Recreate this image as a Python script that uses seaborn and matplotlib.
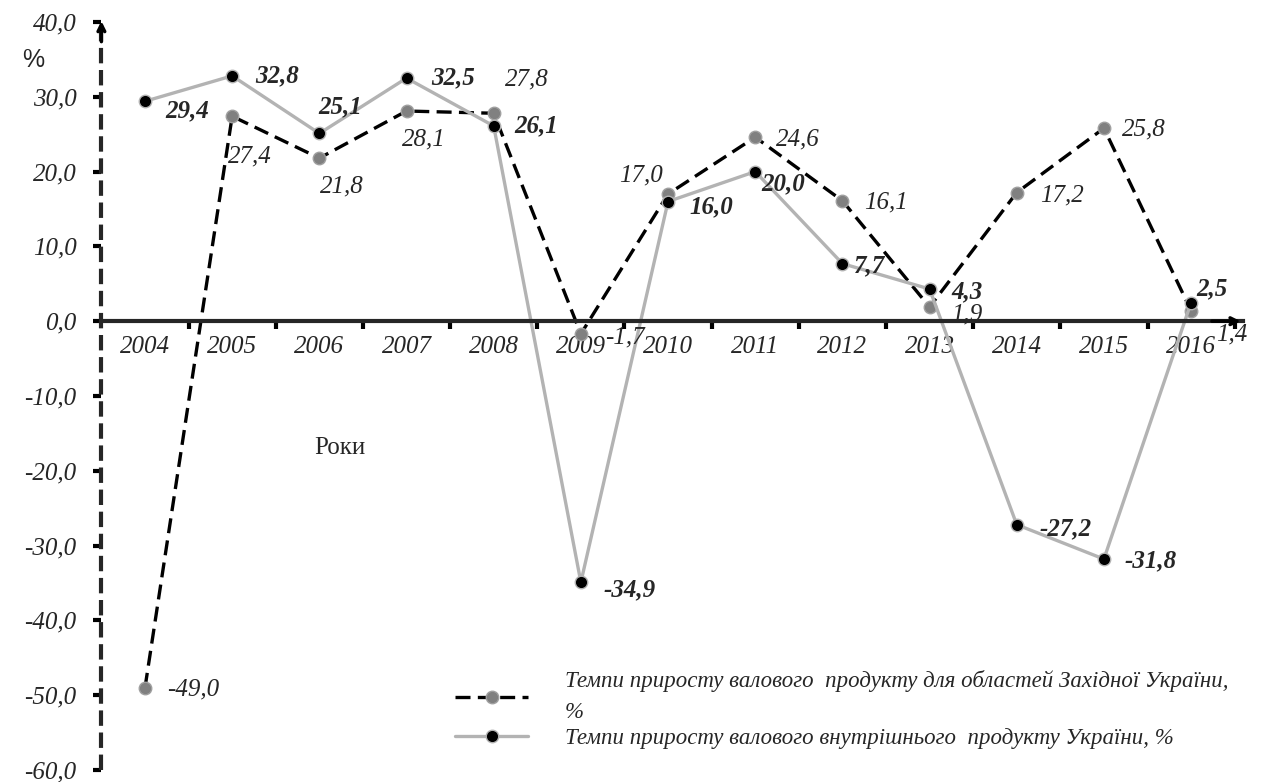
import numpy as np
import pandas as pd
import matplotlib
matplotlib.use("Agg")
import matplotlib.pyplot as plt
import seaborn as sns
from matplotlib.ticker import FuncFormatter

# data
years = ["2004", "2005", "2006", "2007", "2008", "2009", "2010",
         "2011", "2012", "2013", "2014", "2015", "2016"]
west_growth = [-49.0, 27.4, 21.8, 28.1, 27.8, -1.7, 17.0,
               24.6, 16.1, 1.9, 17.2, 25.8, 1.4]
ukraine_growth = [29.4, 32.8, 25.1, 32.5, 26.1, -34.9, 16.0,
                  20.0, 7.7, 4.3, -27.2, -31.8, 2.5]

west_label = "Темпи приросту валового  продукту для областей Західної України,\n%"
ukraine_label = "Темпи приросту валового внутрішнього  продукту України, %"

# label offsets in pixels (dx, dy) from each point
west_offsets = [(22, -2), (-4, -40), (1, -28), (-5, -28), (11, 34), (24, -4), (-49, 19),
                (21, -2), (22, -2), (22, -7), (23, -3), (18, -1), (25, -24)]
ukraine_offsets = [(20, -10), (23, 0), (-1, 27), (25, 0), (21, 0), (23, -8), (21, -5),
                   (6, -12), (12, -2), (22, -3), (23, -4), (21, -2), (5, 14)]

df = pd.DataFrame({
    "pos": np.arange(len(years)),
    "west": west_growth,
    "ukraine": ukraine_growth,
})

FS = 18


def comma(v):
    return f"{v:.1f}".replace(".", ",")


sns.set_theme(style="white")
plt.rcParams["font.family"] = ["Liberation Serif", "DejaVu Serif"]

fig = plt.figure(figsize=(12.75, 7.82), dpi=100)
ax = fig.add_axes([101.4 / 1275, 12 / 782, 1142 / 1275, 748 / 782])

sns.lineplot(data=df, x="pos", y="west", ax=ax, color="black", linestyle=(0, (4.5, 2.2)),
             linewidth=2.4, marker="o", markersize=9, markerfacecolor="#808080",
             markeredgecolor="#a0a0a0", markeredgewidth=1, label=west_label)
sns.lineplot(data=df, x="pos", y="ukraine", ax=ax, color="#b3b3b3", linestyle="-",
             linewidth=2.4, marker="o", markersize=9, markerfacecolor="black",
             markeredgecolor="#b3b3b3", markeredgewidth=1, label=ukraine_label)

for x, v, off in zip(df["pos"], west_growth, west_offsets):
    ax.annotate(comma(v), (x, v), xytext=off, textcoords="offset pixels",
                ha="left", va="center", fontsize=FS, fontstyle="italic")
for x, v, off in zip(df["pos"], ukraine_growth, ukraine_offsets):
    ax.annotate(comma(v), (x, v), xytext=off, textcoords="offset pixels",
                ha="left", va="center", fontsize=FS, fontstyle="italic",
                fontweight="bold")

ax.set_xlim(-0.5, 12.6)
ax.set_ylim(-60, 40)

# axes styling
for side in ["top", "right"]:
    ax.spines[side].set_visible(False)
ax.spines["bottom"].set_position(("data", 0))
ax.spines["bottom"].set_linewidth(3)
ax.spines["left"].set_linewidth(3)
ax.spines["left"].set_linestyle((0, (3.7, 1.6)))
ax.spines["left"].set_capstyle("butt")

ax.annotate("", xy=(1.0, 0), xytext=(0.97, 0), xycoords=("axes fraction", "data"),
            arrowprops=dict(arrowstyle="->", lw=2.5, color="black"))
ax.annotate("", xy=(0, 1.005), xytext=(0, 0.97), xycoords="axes fraction",
            arrowprops=dict(arrowstyle="->", lw=2.5, color="black"))

ax.set_xticks(np.arange(0.5, 12.6, 1))
ax.set_xticklabels([])
ax.set_xticks(df["pos"], labels=years, minor=True)
ax.tick_params(axis="x", which="major", direction="out", length=6, width=3,
               color="black", bottom=True)
ax.tick_params(axis="x", which="minor", length=0, pad=11, labelsize=FS, bottom=True)

ax.set_yticks(np.arange(-60, 41, 10))
ax.yaxis.set_major_formatter(FuncFormatter(lambda v, p: comma(v)))
ax.tick_params(axis="y", direction="out", length=6, width=3, color="black",
               left=True, pad=12, labelsize=FS)
for lab in ax.get_xticklabels(minor=True) + ax.get_yticklabels():
    lab.set_fontstyle("italic")

ax.set_xlabel("")
ax.set_ylabel("")
ax.grid(False)

fig.text(22 / 1275, 1 - 60 / 782, "%", fontsize=18, family=["Liberation Sans"],
         va="center", ha="left")
fig.text(340 / 1275, 1 - 448 / 782, "Роки", fontsize=FS, va="center", ha="center")

leg = ax.legend(loc="upper left", bbox_to_anchor=(455 / 1275, 1 - 670 / 782),
                bbox_transform=fig.transFigure, frameon=False,
                prop={"style": "italic", "size": 16.5}, handlelength=3.2,
                handletextpad=1.6, labelspacing=0.2, borderaxespad=0, borderpad=0)
for t in leg.get_texts():
    t.set_linespacing(1.65)

fig.savefig("out.png", dpi=100)
